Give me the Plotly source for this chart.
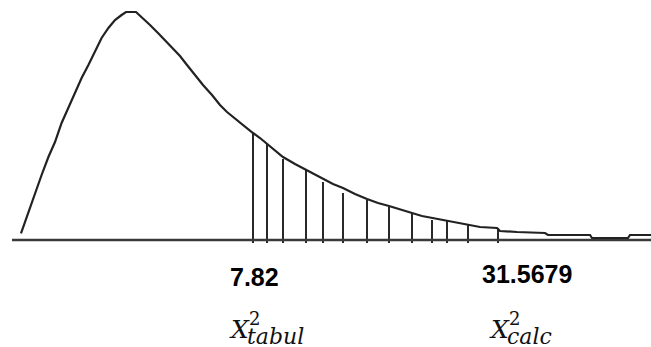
import plotly.graph_objects as go

# Schematic chi-square density curve (x value, density)
curve_x = [1.05, 1.42, 1.75, 2.08, 2.42, 2.75, 3.08, 3.42, 3.75, 4.08, 4.42, 4.75, 5.08, 5.42,
           5.75, 6.08, 6.30, 6.80, 7.00, 7.15, 7.50, 7.90, 8.30, 8.60, 9.00, 9.35, 9.75,
           10.15, 10.60, 11.00, 11.35, 11.65, 12.00, 12.30, 12.65, 13.00, 13.35, 13.75, 14.15,
           14.75, 15.30, 15.75, 16.15, 16.65, 17.15, 17.75, 18.35, 18.90, 19.45, 20.00, 20.60,
           21.10, 21.60, 22.35, 22.90, 23.40, 24.00, 24.85, 25.00, 25.85, 27.25, 27.40, 29.50,
           29.60, 31.40, 31.50, 32.55]
curve_y = [0.0067, 0.028, 0.048, 0.065, 0.083, 0.098, 0.117, 0.132, 0.147, 0.162, 0.175, 0.188,
           0.202, 0.212, 0.220, 0.225, 0.228, 0.228, 0.2245, 0.222, 0.215, 0.207, 0.199,
           0.192, 0.184, 0.175, 0.165, 0.155, 0.145, 0.135, 0.128, 0.123, 0.118, 0.113, 0.107,
           0.102, 0.096, 0.089, 0.083, 0.076, 0.070, 0.065, 0.061, 0.056, 0.052, 0.046, 0.041,
           0.037, 0.034, 0.031, 0.027, 0.024, 0.022, 0.019, 0.017, 0.015, 0.013, 0.012, 0.009,
           0.008, 0.007, 0.005, 0.005, 0.002, 0.002, 0.005, 0.005]

# Hatched rejection region (vertical lines)
hatch_x = [12.65, 13.35, 14.15, 15.30, 16.15, 17.15, 18.35, 19.45, 20.60, 21.60, 22.35, 23.40, 24.90]
hatch_top = [0.107, 0.096, 0.081, 0.070, 0.058, 0.047, 0.040, 0.033, 0.027, 0.020, 0.019, 0.015, 0.012]
hatch_bottom = -0.003

baseline_x = [0.6, 32.55]
baseline_y = [0.0, 0.0]

value_labels = ["7.82", "31.5679"]
value_x = [12.7, 26.35]
value_y = [-0.037, -0.034]

stat_main = ["X", "X"]
stat_sub = ["tabul", "calc"]
stat_x = [11.35, 24.35]

fig = go.Figure()

# hatch lines
hx, hy = [], []
for x, t in zip(hatch_x, hatch_top):
    hx += [x, x, None]
    hy += [hatch_bottom, t, None]
fig.add_trace(go.Scatter(x=hx, y=hy, mode="lines",
                         line=dict(color="#111111", width=1.8), hoverinfo="skip"))

# baseline
fig.add_trace(go.Scatter(x=baseline_x, y=baseline_y, mode="lines",
                         line=dict(color="#3a3a3a", width=2.5), hoverinfo="skip"))

# curve
fig.add_trace(go.Scatter(x=curve_x, y=curve_y, mode="lines",
                         line=dict(color="#222222", width=2.2), hoverinfo="skip"))

annotations = []
for t, x, y in zip(value_labels, value_x, value_y):
    annotations.append(dict(x=x, y=y, xref="x", yref="y", text="<b>" + t + "</b>",
                            showarrow=False, xanchor="center", yanchor="middle",
                            font=dict(family="Liberation Sans, Arial", size=25, color="#000000")))

for m, s, x in zip(stat_main, stat_sub, stat_x):
    annotations.append(dict(x=x, y=-0.0895, xref="x", yref="y", text="<i>" + m + "</i>",
                            showarrow=False, xanchor="left", yanchor="middle",
                            font=dict(family="DejaVu Serif", size=25, color="#111111")))
    annotations.append(dict(x=x + 1.02, y=-0.0785, xref="x", yref="y", text="2",
                            showarrow=False, xanchor="left", yanchor="middle",
                            font=dict(family="DejaVu Serif", size=18, color="#111111")))
    annotations.append(dict(x=x + 0.90, y=-0.0965, xref="x", yref="y", text="<i>" + s + "</i>",
                            showarrow=False, xanchor="left", yanchor="middle",
                            font=dict(family="DejaVu Serif", size=22, color="#111111")))

fig.update_layout(
    width=651, height=347,
    margin=dict(l=0, r=0, t=0, b=0),
    paper_bgcolor="white", plot_bgcolor="white",
    showlegend=False,
    xaxis=dict(range=[0, 32.55], visible=False, fixedrange=True),
    yaxis=dict(range=[-0.107, 0.240], visible=False, fixedrange=True),
    annotations=annotations,
)

fig.write_html("out.html", config={"displayModeBar": False},
               post_script="document.body.style.margin='0';document.body.style.overflow='hidden';")
